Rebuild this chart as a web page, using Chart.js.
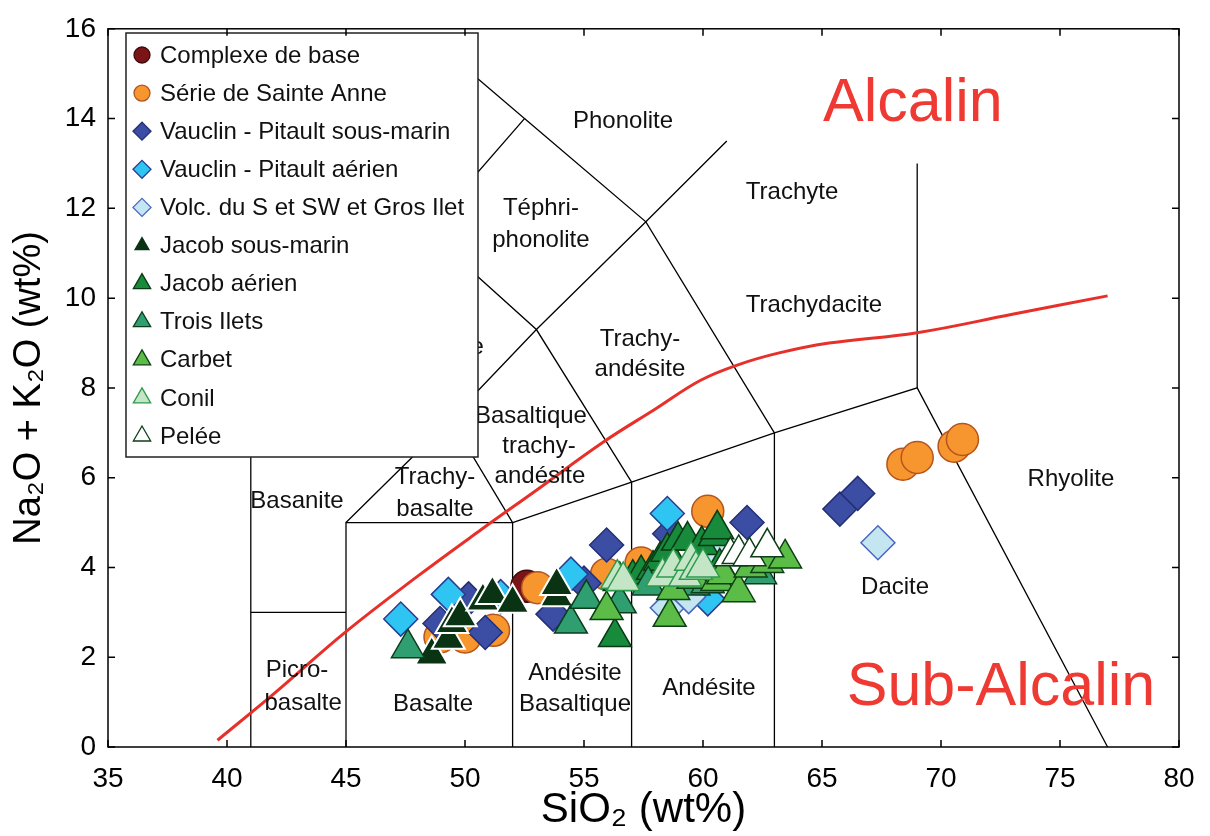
<!DOCTYPE html>
<html>
<head>
<meta charset="utf-8">
<script src="https://cdn.jsdelivr.net/npm/chart.js@4.4.0/dist/chart.umd.min.js"></script>
<style>
  html, body { margin: 0; padding: 0; background: #fff; }
</style>
</head>
<body>
<canvas id="tasChart" width="1210" height="836"></canvas>
<script>
const complexeBase = [[52.6, 3.58]];
const sainteAnne = [[48.95, 2.45], [50.0, 2.45], [51.2, 2.6], [53.05, 3.55], [55.95, 3.85], [57.4, 4.1], [60.2, 5.25], [68.4, 6.3], [69.0, 6.45], [70.55, 6.7], [70.9, 6.85]];
const vauclinSousMarin = [[48.95, 2.75], [50.15, 3.3], [50.85, 2.55], [53.7, 2.96], [55.0, 3.65], [55.95, 4.5], [58.6, 4.75], [61.85, 5.0], [65.75, 5.3], [66.5, 5.65]];
const vauclinAerien = [[47.3, 2.85], [49.3, 3.4], [51.5, 3.35], [54.45, 3.85], [58.5, 5.2], [60.2, 3.3]];
const volcSud = [[58.5, 3.1], [59.4, 3.35], [60.1, 4.2], [60.6, 4.35], [67.35, 4.55]];
const jacobSousMarin = [[48.6, 2.05], [49.3, 2.4], [49.45, 2.75], [49.8, 2.9], [50.75, 3.25], [51.15, 3.4], [52.0, 3.2], [53.85, 3.35], [53.85, 3.6]];
const jacobAerien = [[56.3, 2.45], [57.05, 3.75], [57.4, 3.85], [57.9, 3.95], [58.2, 4.15], [58.5, 4.35], [58.95, 4.6], [59.35, 4.6], [59.95, 4.5], [60.5, 4.7], [60.6, 4.85], [60.7, 4.0]];
const troisIlets = [[47.6, 2.2], [54.45, 2.75], [55.1, 3.3], [56.5, 3.2], [56.5, 3.7], [57.7, 3.6], [59.6, 3.6], [60.2, 3.65], [62.4, 3.85]];
const carbet = [[55.95, 3.05], [58.6, 2.9], [58.75, 3.5], [59.6, 3.75], [60.6, 3.7], [60.85, 3.85], [61.5, 3.45], [62.0, 4.0], [62.7, 4.1], [63.45, 4.2]];
const conil = [[56.4, 3.75], [56.65, 3.7], [58.3, 3.8], [58.75, 4.0], [59.25, 3.8], [59.5, 4.15], [59.7, 3.95], [60.0, 4.0]];
const pelee = [[61.15, 4.25], [61.5, 4.3], [61.95, 4.25], [62.7, 4.45]];

// Limites des champs TAS (Le Bas et al.)
const tasLines = [
  [[41, 0], [41, 7], [45, 9.4], [48.4, 11.5], [52.5, 14], [50, 15.13]],
  [[41, 3], [45, 3]],
  [[45, 0], [45, 5], [52, 5], [52, 0]],
  [[45, 5], [49.4, 7.3], [53, 9.3], [57.6, 11.7], [61, 13.5]],
  [[52, 5], [57, 5.9], [63, 7], [69, 8], [77, 0]],
  [[57, 0], [57, 5.9]],
  [[63, 0], [63, 7]],
  [[69, 8], [69, 13]],
  [[52, 5], [49.4, 7.3], [45, 9.4]],
  [[57, 5.9], [53, 9.3], [48.4, 11.5]],
  [[63, 7], [57.6, 11.7], [52.5, 14]]
];

// Limite alcalin / sub-alcalin
const curveSi = [39.6, 42, 45, 48, 50.7, 53, 55.8, 58, 59.9, 61.5, 63.2, 65.3, 69, 73, 77];
const curveAlk = [0.15, 1.2, 2.57, 3.8, 4.85, 5.72, 6.79, 7.53, 8.17, 8.52, 8.78, 9.0, 9.23, 9.64, 10.05];

// Noms des champs
const zoneNames = ['Phonolite', 'Téphri-', 'phonolite', 'Trachyte', 'Trachydacite', 'Trachy-', 'andésite',
  'Basaltique', 'trachy-', 'andésite', 'Trachy-', 'basalte', 'Basanite', 'Phonotéphrite', 'Picro-', 'basalte',
  'Basalte', 'Andésite', 'Basaltique', 'Andésite', 'Dacite', 'Rhyolite'];
const zoneSi = [56.64, 53.19, 53.19, 63.74, 64.66, 57.35, 57.35, 52.77, 53.11, 53.15, 48.74, 48.74, 42.94, 47.65, 42.94, 43.2,
  48.66, 54.62, 54.62, 60.25, 68.07, 75.46];
const zoneAlk = [13.94, 11.99, 11.29, 12.35, 9.83, 9.07, 8.41, 7.37, 6.70, 6.04, 6.0, 5.29, 5.47, 8.9, 1.70, 0.97,
  0.95, 1.64, 0.95, 1.31, 3.56, 5.97];

const xTicks = [35, 40, 45, 50, 55, 60, 65, 70, 75, 80];
const yTicks = [0, 2, 4, 6, 8, 10, 12, 14, 16];

const FONT = '"Liberation Sans", Arial, Helvetica, sans-serif';

const series = [
  { label: 'Complexe de base', data: complexeBase, style: 'circle', r: 16, fill: '#7b1416', line: '#3d0a0a', lr: 8 },
  { label: 'Série de Sainte Anne', data: sainteAnne, style: 'circle', r: 16, fill: '#f7962f', line: '#b4541e', lr: 8 },
  { label: 'Vauclin - Pitault sous-marin', data: vauclinSousMarin, style: 'rectRot', r: 17, fill: '#3b4ea3', line: '#252f78', lr: 9 },
  { label: 'Vauclin - Pitault aérien', data: vauclinAerien, style: 'rectRot', r: 17, fill: '#2ec5f2', line: '#2a3d8f', lr: 9 },
  { label: 'Volc. du S et SW et Gros Ilet', data: volcSud, style: 'rectRot', r: 17, fill: '#c3e6f0', line: '#4a66c2', lr: 9 },
  { label: 'Jacob sous-marin', data: jacobSousMarin, style: 'triangle', r: 19, fill: '#0a3314', line: '#ffffff', lr: 8 },
  { label: 'Jacob aérien', data: jacobAerien, style: 'triangle', r: 19, fill: '#178a3c', line: '#0a3a14', lr: 10 },
  { label: 'Trois Ilets', data: troisIlets, style: 'triangle', r: 19, fill: '#2f9e70', line: '#0c3d1c', lr: 10 },
  { label: 'Carbet', data: carbet, style: 'triangle', r: 19, fill: '#5bbd47', line: '#0f3f15', lr: 10 },
  { label: 'Conil', data: conil, style: 'triangle', r: 19, fill: '#c4e5c6', line: '#2d9a4d', lr: 10 },
  { label: 'Pelée', data: pelee, style: 'triangle', r: 19, fill: '#ffffff', line: '#0e3e18', lr: 10 }
];

const datasets = [];

// Lignes de limites
tasLines.forEach(seg => {
  datasets.push({
    type: 'scatter',
    data: seg.map(([x, y]) => ({ x, y })),
    showLine: true,
    borderColor: '#000',
    borderWidth: 1.3,
    pointRadius: 0,
    fill: false,
    order: 100
  });
});

// Courbe rouge
datasets.push({
  type: 'scatter',
  data: curveSi.map((x, i) => ({ x, y: curveAlk[i] })),
  showLine: true,
  borderColor: '#e8302a',
  borderWidth: 3,
  pointRadius: 0,
  tension: 0.4,
  fill: false,
  order: 50
});

// Séries de points
series.forEach((s, i) => {
  datasets.push({
    type: 'scatter',
    label: s.label,
    data: s.data.map(([x, y]) => ({ x, y })),
    pointStyle: s.style,
    pointRadius: s.r,
    backgroundColor: s.fill,
    borderColor: s.line,
    borderWidth: s.line === '#ffffff' ? 2 : 1.5,
    order: 30 - i
  });
});

// Noms des champs + Alcalin / Sub-Alcalin
const labelsPlugin = {
  id: 'zoneLabels',
  afterDatasetsDraw(chart) {
    const { ctx, scales: { x, y } } = chart;
    ctx.save();
    ctx.fillStyle = '#111';
    ctx.font = '24px ' + FONT;
    ctx.textAlign = 'center';
    ctx.textBaseline = 'middle';
    zoneNames.forEach((name, i) => {
      ctx.fillText(name, x.getPixelForValue(zoneSi[i]), y.getPixelForValue(zoneAlk[i]));
    });
    ctx.fillStyle = '#ee3a32';
    ctx.font = '61px ' + FONT;
    ctx.fillText('Alcalin', x.getPixelForValue(68.82), y.getPixelForValue(14.32));
    ctx.fillText('Sub-Alcalin', x.getPixelForValue(72.52), y.getPixelForValue(1.31));
    ctx.restore();
  }
};

// Légende encadrée dans la zone du graphique
const legendPlugin = {
  id: 'boxLegend',
  afterDatasetsDraw(chart) {
    const ctx = chart.ctx;
    const left = 126, top = 33, w = 352, h = 424;
    ctx.save();
    ctx.fillStyle = '#fff';
    ctx.fillRect(left, top, w, h);
    ctx.strokeStyle = '#222';
    ctx.lineWidth = 1.5;
    ctx.strokeRect(left, top, w, h);
    ctx.font = '24px ' + FONT;
    ctx.textBaseline = 'middle';
    ctx.textAlign = 'left';
    series.forEach((s, i) => {
      const cy = 55 + i * 38.1;
      ctx.fillStyle = s.fill;
      ctx.strokeStyle = s.line === '#ffffff' ? s.fill : s.line;
      ctx.lineWidth = 1.3;
      Chart.helpers.drawPoint(ctx, { pointStyle: s.style, radius: s.lr, rotation: 0, borderWidth: 1.3 }, 142, cy);
      ctx.fillStyle = '#111';
      ctx.fillText(s.label, 160, cy + 1);
    });
    ctx.restore();
  }
};

// Cadre et graduations vers l'intérieur sur les quatre côtés
const framePlugin = {
  id: 'frame',
  afterDraw(chart) {
    const { ctx, chartArea: a, scales: { x, y } } = chart;
    const len = 7;
    ctx.save();
    ctx.strokeStyle = '#000';
    ctx.lineWidth = 1.5;
    ctx.strokeRect(a.left, a.top, a.right - a.left, a.bottom - a.top);
    ctx.beginPath();
    x.ticks.forEach(t => {
      const px = x.getPixelForValue(t.value);
      ctx.moveTo(px, a.bottom); ctx.lineTo(px, a.bottom - len);
      ctx.moveTo(px, a.top); ctx.lineTo(px, a.top + len);
    });
    y.ticks.forEach(t => {
      const py = y.getPixelForValue(t.value);
      ctx.moveTo(a.left, py); ctx.lineTo(a.left + len, py);
      ctx.moveTo(a.right, py); ctx.lineTo(a.right - len, py);
    });
    ctx.stroke();
    ctx.restore();
  }
};

new Chart(document.getElementById('tasChart').getContext('2d'), {
  type: 'scatter',
  data: { datasets },
  options: {
    responsive: false,
    animation: false,
    events: [],
    layout: { padding: { left: 0, top: 24, right: 31, bottom: 0 } },
    plugins: {
      legend: { display: false },
      tooltip: { enabled: false }
    },
    scales: {
      x: {
        type: 'linear',
        min: 35,
        max: 80,
        afterBuildTicks: (s) => { s.ticks = xTicks.map(v => ({ value: v })); },
        afterFit: (s) => { s.height = 89; },
        ticks: { color: '#000', font: { family: FONT, size: 28 }, padding: 15 },
        grid: { display: false, drawTicks: false },
        border: { display: false },
        title: { display: true, text: 'SiO₂ (wt%)', color: '#000', font: { family: FONT, size: 42 }, padding: { top: 0, bottom: 0 } }
      },
      y: {
        type: 'linear',
        min: 0,
        max: 16,
        afterBuildTicks: (s) => { s.ticks = yTicks.map(v => ({ value: v })); },
        afterFit: (s) => { s.width = 108; },
        ticks: { color: '#000', font: { family: FONT, size: 28 }, padding: 12 },
        grid: { display: false, drawTicks: false },
        border: { display: false },
        title: { display: true, text: 'Na₂O + K₂O (wt%)', color: '#000', font: { family: FONT, size: 38 }, padding: { top: 7, bottom: 0 } }
      }
    }
  },
  plugins: [labelsPlugin, legendPlugin, framePlugin]
});
</script>
</body>
</html>
